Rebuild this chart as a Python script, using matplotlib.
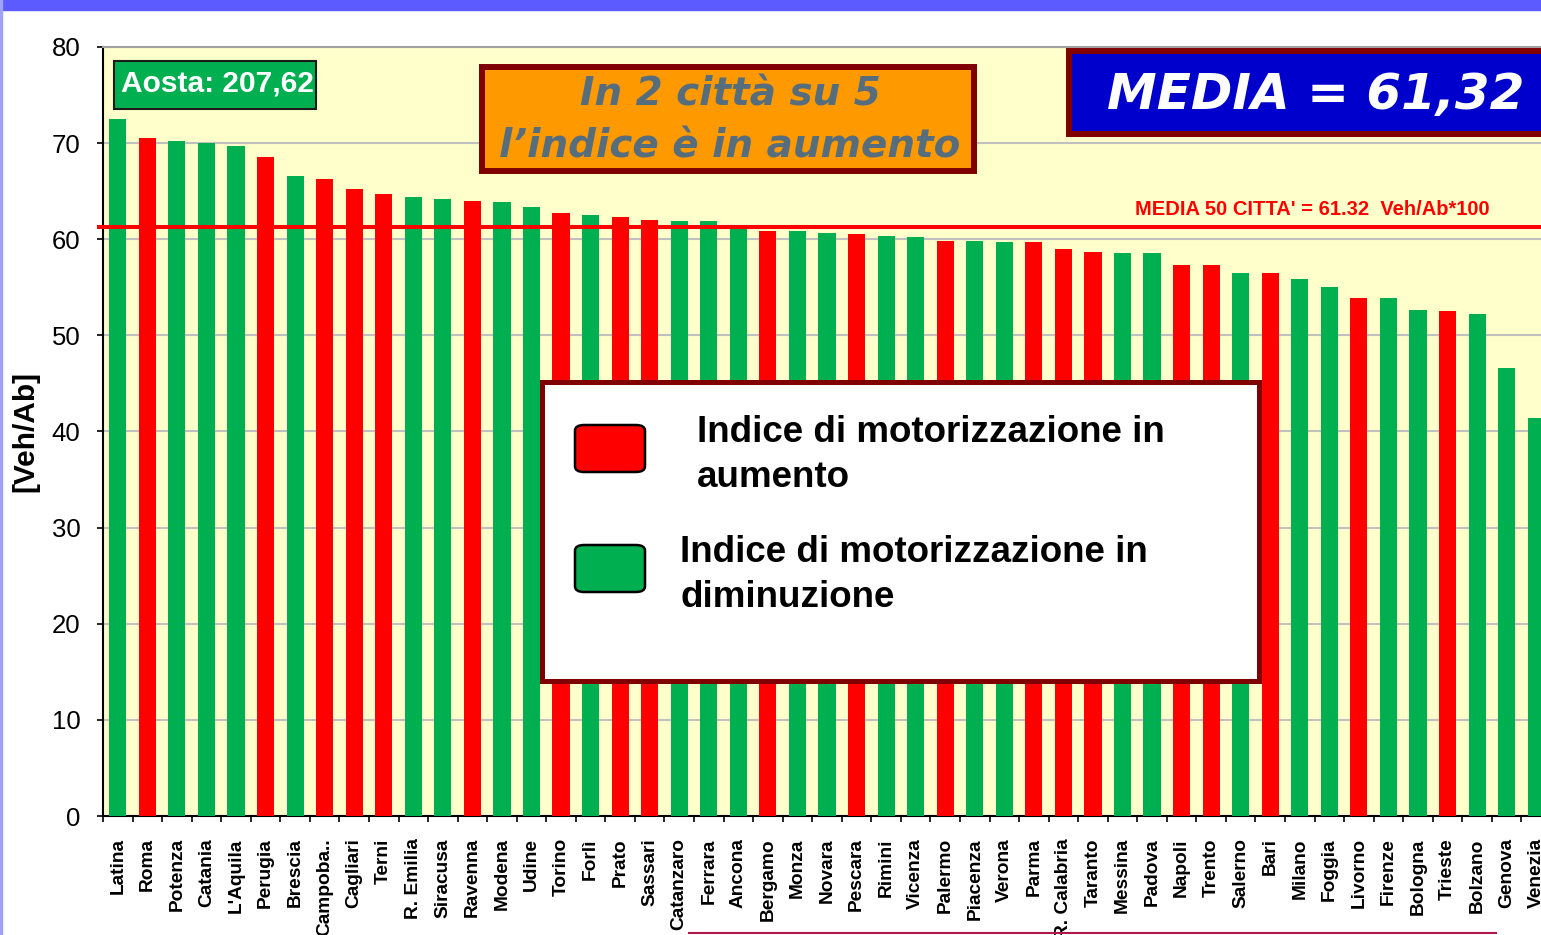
import matplotlib
matplotlib.use('Agg')
import matplotlib.pyplot as plt
from matplotlib.patches import Rectangle, FancyBboxPatch
import numpy as np

# dati (Veh/Ab*100)
citta = ['Latina', 'Roma', 'Potenza', 'Catania', "L'Aquila", 'Perugia', 'Brescia',
         'Campoba..', 'Cagliari', 'Terni', 'R. Emilia', 'Siracusa', 'Ravenna', 'Modena',
         'Udine', 'Torino', 'Forlì', 'Prato', 'Sassari', 'Catanzaro', 'Ferrara', 'Ancona',
         'Bergamo', 'Monza', 'Novara', 'Pescara', 'Rimini', 'Vicenza', 'Palermo',
         'Piacenza', 'Verona', 'Parma', 'R. Calabria', 'Taranto', 'Messina', 'Padova',
         'Napoli', 'Trento', 'Salerno', 'Bari', 'Milano', 'Foggia', 'Livorno', 'Firenze',
         'Bologna', 'Trieste', 'Bolzano', 'Genova', 'Venezia']
valori = [72.5, 70.5, 70.2, 70.0, 69.7, 68.6, 66.6, 66.3, 65.2, 64.7, 64.4, 64.2, 64.0,
          63.9, 63.4, 62.7, 62.5, 62.3, 62.0, 61.9, 61.9, 61.2, 60.9, 60.9, 60.7, 60.5,
          60.3, 60.2, 59.8, 59.8, 59.7, 59.7, 59.0, 58.7, 58.6, 58.6, 57.3, 57.3, 56.5,
          56.5, 55.9, 55.0, 53.9, 53.9, 52.6, 52.5, 52.2, 46.6, 41.4]
# A = indice in aumento, D = in diminuzione
trend = ['D', 'A', 'D', 'D', 'D', 'A', 'D', 'A', 'A', 'A', 'D', 'D', 'A', 'D', 'D', 'A',
         'D', 'A', 'A', 'D', 'D', 'D', 'A', 'D', 'D', 'A', 'D', 'D', 'A', 'D', 'D', 'A',
         'A', 'A', 'D', 'D', 'A', 'A', 'D', 'A', 'D', 'D', 'A', 'D', 'D', 'A', 'D', 'D', 'D']
media = 61.32
aosta = '207,62'

ROSSO = '#FF0000'
VERDE = '#00B050'

W, H = 1541, 935
fig = plt.figure(figsize=(W / 100, H / 100), dpi=100)
fig.patch.set_facecolor('white')


def box(x0, y0, x1, y1):
    # rettangolo in pixel (origine in alto a sinistra) -> frazioni di figura
    return (x0 / W, 1 - y1 / H), (x1 - x0) / W, (y1 - y0) / H


ax = fig.add_axes([103 / W, 1 - 816 / H, 1448 / W, 769 / H])
ax.set_facecolor('#FFFFCC')

n = len(citta)
x = np.arange(n)
colori = [ROSSO if t == 'A' else VERDE for t in trend]
ax.bar(x, valori, width=0.58, color=colori, zorder=3)

ax.set_xlim(-0.5, n - 0.5)
ax.set_ylim(0, 80)
ax.set_yticks(range(0, 81, 10))
ax.yaxis.grid(True, color='#C0C0C0', linewidth=1.5, zorder=0)
ax.set_axisbelow(True)

# linea media
off = 4 / 29.55
ax.plot([-0.5 - off, n - 0.5], [media, media], color=ROSSO, linewidth=2.9,
        zorder=4, clip_on=False)
ax.text((1490 - 103) / 29.55 - 0.5, media + 1.2,
        "MEDIA 50 CITTA' = 61.32  Veh/Ab*100", color=ROSSO, fontsize=14.5,
        fontweight='bold', family='Liberation Sans', ha='right', va='baseline', zorder=5)

ax.spines['right'].set_visible(False)
ax.spines['top'].set_color('#A0A0A0')
ax.spines['top'].set_linewidth(1.5)
ax.spines['left'].set_linewidth(1.5)
ax.spines['bottom'].set_linewidth(1.5)

ax.set_xticks(x)
ax.set_xticklabels(citta, rotation=90, fontsize=13.8, fontweight='bold',
                   family='Liberation Sans', va='top', ha='center')
ax.set_xticks(np.arange(-0.5, n, 1), minor=True)
ax.tick_params(axis='x', which='major', length=0, pad=16)
ax.tick_params(axis='x', which='minor', length=4.3, width=1.2, direction='out')
ax.tick_params(axis='y', length=4.3, width=1.2, direction='out', pad=12, labelsize=18.5)
for t in ax.get_yticklabels():
    t.set_family('Liberation Sans')

fig.text(25 / W, 1 - 432 / H, '[Veh/Ab]', rotation=90, fontsize=21.5, fontweight='bold',
         family='Liberation Sans', ha='center', va='center')

# cornice della slide
xy, w, h = box(0, 0, W, 10)
fig.add_artist(Rectangle(xy, w, h, transform=fig.transFigure, color='#5B5BFF', zorder=5))
xy, w, h = box(0, 0, 2, H)
fig.add_artist(Rectangle(xy, w, h, transform=fig.transFigure, color='#A0A0FF', zorder=5))
fig.add_artist(plt.Line2D([689 / W, 1496 / W], [1 - 933 / H] * 2, color='#B0184A',
                          linewidth=1.5, transform=fig.transFigure))

# riquadro Aosta
xy, w, h = box(114, 61, 316, 109)
fig.add_artist(Rectangle(xy, w, h, transform=fig.transFigure, facecolor=VERDE,
                         edgecolor='#1A1A1A', linewidth=1.5, zorder=5))
fig.text(217 / W, 1 - 84 / H, 'Aosta: ' + aosta, color='white', fontsize=21.5,
         fontweight='bold', family='Liberation Sans', ha='center', va='center', zorder=6)

# riquadro arancione
xy, w, h = box(482, 67, 974, 171)
fig.add_artist(Rectangle(xy, w, h, transform=fig.transFigure, facecolor='#FF9900',
                         edgecolor='#800000', linewidth=4.3, zorder=5))
fig.text(730 / W, 1 - 95 / H, 'In 2 città su 5', color='#566D7E', fontsize=28,
         fontweight='bold', style='italic', family='DejaVu Sans', ha='center',
         va='center', zorder=6)
fig.text(730 / W, 1 - 146 / H, 'l’indice è in aumento', color='#566D7E', fontsize=28,
         fontweight='bold', style='italic', family='DejaVu Sans', ha='center',
         va='center', zorder=6)

# riquadro blu
xy, w, h = box(1069, 51, 1570, 134)
fig.add_artist(Rectangle(xy, w, h, transform=fig.transFigure, facecolor='#0000CC',
                         edgecolor='#800000', linewidth=4.3, zorder=5))
fig.text(1316 / W, 1 - 95 / H, 'MEDIA = ' + '61,32', color='white', fontsize=36,
         fontweight='bold', style='italic', family='DejaVu Sans', ha='center',
         va='center', zorder=6)

# legenda
xy, w, h = box(542, 382, 1259, 681)
fig.add_artist(Rectangle(xy, w, h, transform=fig.transFigure, facecolor='white',
                         edgecolor='#7F0000', linewidth=3.6, zorder=7))
for (y0, y1), col in [((425, 472), ROSSO), ((545, 592), VERDE)]:
    xy, w, h = box(575, y0, 645, y1)
    fig.add_artist(FancyBboxPatch(xy, w, h, boxstyle='round,pad=0,rounding_size=0.006',
                                  transform=fig.transFigure, facecolor=col,
                                  edgecolor='black', linewidth=1.8, zorder=8))
righe = [(697, 442, 'Indice di motorizzazione in'), (697, 487, 'aumento'),
         (680, 562, 'Indice di motorizzazione in'), (680, 607, 'diminuzione')]
for px, py, testo in righe:
    fig.text(px / W, 1 - py / H, testo, fontsize=26.5, fontweight='bold',
             family='Liberation Sans', ha='left', va='baseline', zorder=9)

fig.savefig('out.png', dpi=100)
